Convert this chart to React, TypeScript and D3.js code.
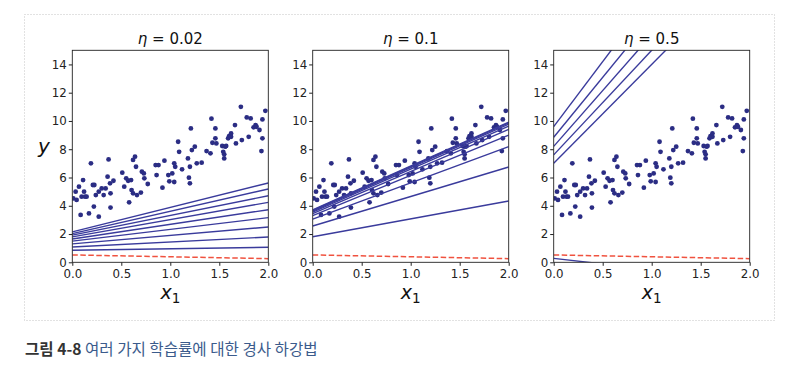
import React, { useRef, useEffect } from "react"
import * as d3 from "d3"

// scatter (same data in every panel)
const pointX = [0.01, 0.034, 0.044, 0.068, 0.085, 0.095, 0.11, 0.12, 0.13, 0.146, 0.17, 0.19, 0.21, 0.22, 0.225, 0.24, 0.27, 0.27, 0.30, 0.32, 0.34, 0.36, 0.37, 0.385, 0.39, 0.39, 0.42, 0.51, 0.53, 0.55, 0.57, 0.58, 0.60, 0.605, 0.62, 0.62, 0.64, 0.65, 0.66, 0.70, 0.71, 0.73, 0.735, 0.77, 0.85, 0.86, 0.88, 0.92, 0.94, 0.98, 0.99, 1.02, 1.04, 1.04, 1.05, 1.08, 1.09, 1.12, 1.18, 1.19, 1.20, 1.20, 1.21, 1.22, 1.25, 1.27, 1.32, 1.37, 1.41, 1.42, 1.43, 1.46, 1.46, 1.47, 1.53, 1.54, 1.55, 1.55, 1.56, 1.57, 1.59, 1.60, 1.62, 1.62, 1.66, 1.67, 1.72, 1.73, 1.78, 1.80, 1.82, 1.85, 1.87, 1.88, 1.91, 1.93, 1.94, 1.94, 1.97]
const pointY = [4.52, 5.0, 4.41, 5.35, 3.35, 4.64, 5.82, 5.0, 4.64, 4.64, 3.46, 7.0, 5.47, 3.94, 5.47, 4.76, 5.0, 3.23, 5.23, 4.76, 5.23, 6.06, 7.28, 5.59, 4.88, 3.87, 5.77, 6.34, 5.35, 5.94, 5.77, 4.24, 5.82, 5.11, 7.24, 4.88, 7.47, 6.76, 4.76, 4.93, 6.41, 6.29, 5.94, 5.54, 6.88, 6.17, 6.88, 5.28, 7.19, 6.17, 5.73, 6.29, 7.0, 5.68, 6.76, 8.53, 7.82, 6.58, 7.35, 5.99, 5.59, 6.76, 9.47, 7.94, 8.18, 7.0, 7.05, 7.87, 7.71, 10.16, 8.46, 8.77, 9.47, 8.41, 8.23, 7.82, 7.64, 7.35, 8.18, 8.23, 8.77, 8.93, 8.88, 9.12, 9.71, 8.41, 11.0, 8.65, 10.25, 8.88, 10.18, 9.55, 9.71, 9.59, 9.36, 7.87, 8.77, 10.11, 10.72]

const etaLabels = ["0.02", "0.1", "0.5"]

// prediction lines: value at x=0 and value at x=2
const initialLine = [0.52, 0.26]
const lines002 = [[0.85, 1.06], [1.08, 1.79], [1.3, 2.5], [1.5, 3.16], [1.65, 3.72], [1.8, 4.24], [1.92, 4.71], [2.03, 5.19], [2.15, 5.61]]
const lines01 = [[1.81, 4.34], [2.57, 6.74], [3.05, 8.18], [3.3, 9.0], [3.45, 9.4], [3.55, 9.64], [3.62, 9.78], [3.67, 9.87], [3.7, 9.92]]
const lines05 = [[0.28, -1.3], [7.0, 21.0], [7.6, 22.4], [8.2, 24.0], [8.85, 25.8], [9.6, 28.0]]

const xTicks = [0, 0.5, 1, 1.5, 2]
const yTicks = [0, 2, 4, 6, 8, 10, 12, 14]

const App = () => {
    const svgRef = useRef<SVGSVGElement>(null)

    useEffect(() => {
        const svg = d3.select(svgRef.current)
        svg.selectAll("*").remove()

        const panelLeft = [72.3, 312.7, 553.7]
        const top = 50.3
        const width = 196
        const height = 212
        const allLines = [lines002, lines01, lines05]

        // dotted frame around the figure
        svg.append("rect")
            .attr("x", 24.5).attr("y", 14.5)
            .attr("width", 750).attr("height", 306)
            .attr("fill", "none")
            .attr("stroke", "#c4c4c4")
            .attr("stroke-dasharray", "1,2")

        const xScale = d3.scaleLinear().domain([0, 2]).range([0, width])
        const yScale = d3.scaleLinear().domain([0, 15]).range([height, 0])

        panelLeft.forEach((left, i) => {
            const g = svg.append("g").attr("transform", `translate(${left},${top})`)

            g.append("clipPath").attr("id", `clip${i}`)
                .append("rect").attr("width", width).attr("height", height)

            const plot = g.append("g").attr("clip-path", `url(#clip${i})`)

            plot.selectAll("circle")
                .data(pointX)
                .enter()
                .append("circle")
                .attr("cx", d => xScale(d))
                .attr("cy", (d, j) => yScale(pointY[j]))
                .attr("r", 2.4)
                .attr("fill", "#2b2d84")

            plot.selectAll("line.fit")
                .data(allLines[i])
                .enter()
                .append("line")
                .attr("class", "fit")
                .attr("x1", xScale(0))
                .attr("x2", xScale(2))
                .attr("y1", d => yScale(d[0]))
                .attr("y2", d => yScale(d[1]))
                .attr("stroke", "#3a3b9c")
                .attr("stroke-width", 1.4)

            plot.append("line")
                .attr("x1", xScale(0))
                .attr("x2", xScale(2))
                .attr("y1", yScale(initialLine[0]))
                .attr("y2", yScale(initialLine[1]))
                .attr("stroke", "#f0523f")
                .attr("stroke-width", 1.5)
                .attr("stroke-dasharray", "5.5,2.5")

            // axes
            const xAxis = g.append("g")
                .attr("transform", `translate(0,${height})`)
                .call(d3.axisBottom(xScale).tickValues(xTicks).tickFormat(d3.format(".1f")).tickSize(3.5).tickSizeOuter(0).tickPadding(3.5))
            const yAxis = g.append("g")
                .call(d3.axisLeft(yScale).tickValues(yTicks).tickSize(3.5).tickSizeOuter(0).tickPadding(2))

            ;[xAxis, yAxis].forEach(ax => {
                ax.select(".domain").remove()
                ax.selectAll("line").attr("stroke", "#222")
                ax.selectAll("text")
                    .attr("fill", "#222")
                    .style("font-family", "DejaVu Sans")
                    .style("font-size", "11.8px")
            })

            g.append("rect")
                .attr("width", width).attr("height", height)
                .attr("fill", "none")
                .attr("stroke", "#222")
                .attr("stroke-width", 0.9)

            // title
            const title = g.append("text")
                .attr("x", width / 2)
                .attr("y", -6)
                .attr("text-anchor", "middle")
                .style("font-family", "DejaVu Sans")
                .style("font-size", "15px")
                .attr("fill", "#111")
            title.append("tspan").style("font-style", "italic").text("η")
            title.append("tspan").text(` = ${etaLabels[i]}`)

            // x label
            const xl = g.append("text")
                .attr("x", width / 2)
                .attr("y", 299 - top)
                .attr("text-anchor", "middle")
                .style("font-family", "DejaVu Sans")
                .attr("fill", "#111")
            xl.append("tspan").style("font-style", "italic").style("font-size", "19px").text("x")
            xl.append("tspan").attr("dy", 4).style("font-size", "13.5px").text("1")

            if (i === 0) {
                g.append("text")
                    .attr("x", 44 - left)
                    .attr("y", 153 - top)
                    .attr("text-anchor", "middle")
                    .style("font-family", "DejaVu Sans")
                    .style("font-style", "italic")
                    .style("font-size", "20px")
                    .attr("fill", "#111")
                    .text("y")
            }
        })

        // caption
        const cap = svg.append("text")
            .attr("x", 25)
            .attr("y", 355)
            .style("font-family", "Noto Sans CJK KR")
            .style("font-size", "15.6px")
        cap.append("tspan").attr("font-weight", "bold").attr("fill", "#333").text("그림 4-8 ")
        cap.append("tspan").attr("fill", "#3b5b8c").text("여러 가지 학습률에 대한 경사 하강법")
    }, [])

    return (
        <svg ref={svgRef} width={807} height={373}
            style={{ position: "absolute", left: 0, top: 0, background: "#fff" }}></svg>
    )
}

export default App
